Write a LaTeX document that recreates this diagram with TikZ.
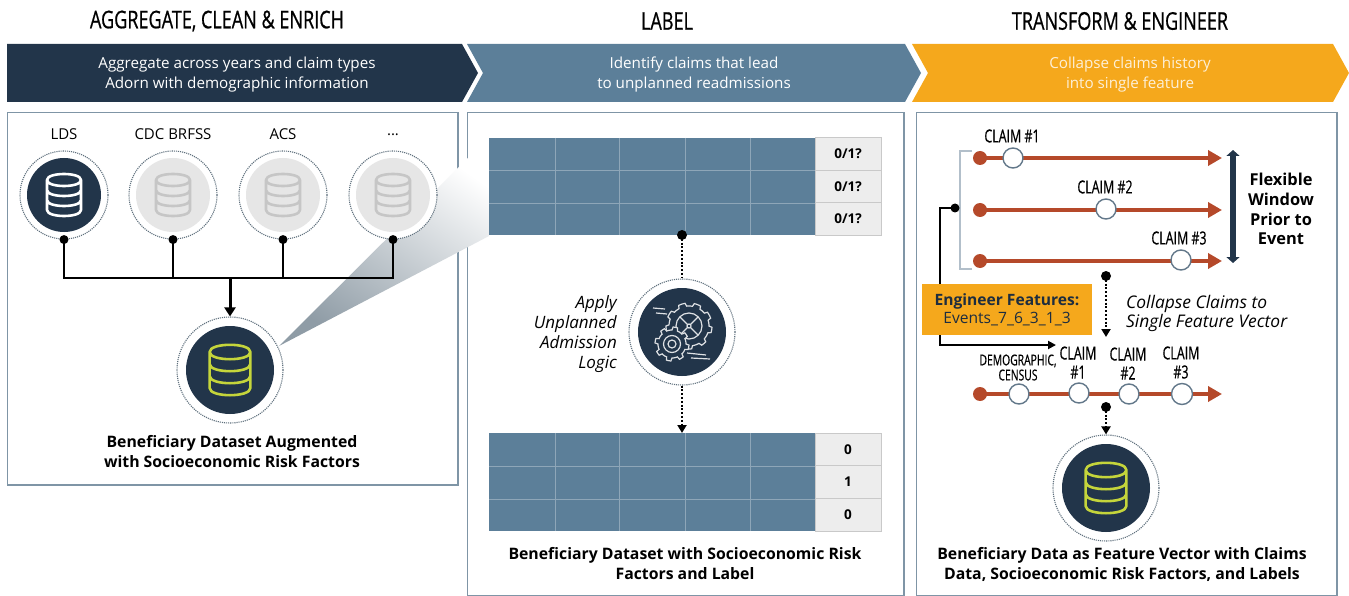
\documentclass[tikz,border=0pt]{standalone}
\usepackage{fontspec}
\setmainfont{Open Sans}
\newfontfamily\cond[FakeStretch=.74,FakeBold=.7]{Open Sans}
\newfontfamily\condb[FakeStretch=.69,FakeBold=.5]{Open Sans}
\usetikzlibrary{arrows.meta}
\definecolor{navy}{HTML}{22354A}
\definecolor{slate}{HTML}{5C7F99}
\definecolor{amber}{HTML}{F5A81C}
\definecolor{rust}{HTML}{B5492A}
\definecolor{ghost}{HTML}{E6E6E6}
\definecolor{ghostline}{HTML}{C6C6C6}
\definecolor{lime}{HTML}{C5D53B}
\definecolor{edge}{HTML}{7F95A6}
\definecolor{cellline}{HTML}{C9C9C9}
\definecolor{gridline}{HTML}{8EA6B8}
\definecolor{cream}{HTML}{FDF0D8}
\definecolor{conegrey}{HTML}{8F9CA6}
\tikzset{
  head/.style={inner sep=0,font=\cond\fontsize{24.4}{26}\selectfont,text=black},
  bandtext/.style={inner sep=0,align=center,text=white,font=\fontsize{15.2}{20}\selectfont},
  caption/.style={inner sep=0,align=center,font=\bfseries\fontsize{15.8}{20}\selectfont,text=black},
  srclabel/.style={inner sep=0,font=\fontsize{15}{16}\selectfont,text=black},
  panel/.style={draw=edge,line width=1.4,fill=white},
  ringouter/.style={circle,draw=edge!75!black,line width=1.1,densely dotted,fill=white,minimum size=#1,inner sep=0},
  ringinner/.style={circle,fill=navy,minimum size=#1,inner sep=0},
  ringghost/.style={circle,fill=ghost,minimum size=#1,inner sep=0},
  blackdot/.style={circle,fill=black,minimum size=9,inner sep=0},
  conn/.style={draw=black,line width=2.1},
  dotline/.style={draw=black,line width=2.1,dash pattern=on 2pt off 1.8pt},
  dots/.style={dotline,-{Triangle[length=8,width=9]}},
  line/.style={draw=rust,line width=4.4,-{Triangle[length=14,width=15]}},
  startdot/.style={circle,fill=rust,minimum size=14,inner sep=0},
  claimdot/.style={circle,draw=edge!70!navy,line width=1.4,fill=white,minimum size=20,inner sep=0},
  claimlabel/.style={inner sep=0,align=center,font=\condb\fontsize{18}{19}\selectfont,text=black},
  cell/.style={draw=cellline,line width=.9,fill=ghost!70!white,minimum width=66,minimum height=#1,inner sep=0,font=\bfseries\fontsize{13.5}{16}\selectfont,text=black},
  pics/dbicon/.style={code={
    \draw[line width=2.6,draw=#1,line join=round,line cap=round]
      (-17,-15) .. controls (-17,-23) and (17,-23) .. (17,-15) .. controls (17,-7) and (-17,-7) .. (-17,-15)
      -- (-17,15) .. controls (-17,23) and (17,23) .. (17,15) -- (17,-15)
      (-17,-5) .. controls (-17,3) and (17,3) .. (17,-5)
      (-17,5) .. controls (-17,13) and (17,13) .. (17,5);
  }},
  pics/gearicon/.style={code={
    \begin{scope}[draw=white!85!navy,line width=1.2]
      \draw[fill=navy] plot[domain=0:360,samples=109,variable=\t] (\t:{20+3*(sin(9*\t)>0)}) -- cycle;
      \draw (0,0) circle[radius=13];
      \draw (0,0) circle[radius=2];
      \foreach \a in {45,135,225,315}{\draw (\a:2) -- (\a:13);}
      \draw[fill=navy] plot[domain=0:360,samples=97,variable=\t] ({-17+(14+3*(sin(8*\t)>0))*cos(\t)},{18+(14+3*(sin(8*\t)>0))*sin(\t)}) -- cycle;
      \draw (-17,18) circle[radius=8.5];
      \draw (-17,18) circle[radius=4];
      \draw (-36,-18) -- (-24,-17) (-33,-13) -- (-22,-12);
      \draw (-2,27) -- (17,29) (2,32) -- (21,33);
    \end{scope}
  }}
}
\begin{document}
\begin{tikzpicture}[x=1pt,y=-1pt]
\useasboundingbox (0,0) rectangle (1349,596);

% headings
\node[head] (h1) at (217,21) {AGGREGATE, CLEAN \& ENRICH};
\node[head] (h2) at (667,21) {LABEL};
\node[head] (h3) at (1120,21) {TRANSFORM \& ENGINEER};

% chevrons
\fill[navy] (7,44) -- (462,44) -- (478,73) -- (462,102) -- (7,102) -- cycle;
\fill[slate] (467,44) -- (905,44) -- (921,73) -- (905,102) -- (467,102) -- (483,73) -- cycle;
\fill[amber] (912,44) -- (1333,44) -- (1349,73) -- (1333,102) -- (912,102) -- (928,73) -- cycle;
\node[bandtext] (b1) at (237,74.5) {Aggregate across years and claim types\\Adorn with demographic information};
\node[bandtext] (b2) at (694,74.5) {Identify claims that lead\\to unplanned readmissions};
\node[bandtext,text=cream] (b3) at (1130,74.5) {Collapse claims history\\into single feature};

% panels
\draw[panel] (7.5,112.5) rectangle (458,485);
\draw[panel] (467.5,112.5) rectangle (904,595.5);
\draw[panel] (916.5,112.5) rectangle (1337,595.5);

% cone
\shade[top color=white,bottom color=conegrey,shading angle=-35] (279,346) -- (489,137) -- (489,236) -- cycle;

% left panel
\node[srclabel] (la) at (64,134.5) {LDS};
\node[srclabel] (lb) at (173,134.5) {CDC BRFSS};
\node[srclabel] (lc) at (283,134.5) {ACS};
\node[srclabel] (ld) at (393,134.5) {...};
\node[ringouter=88] (a) at (64,195) {};
\node[ringouter=88] (b) at (173,195) {};
\node[ringouter=88] (c) at (283,195) {};
\node[ringouter=88] (d) at (393,195) {};
\node[ringinner=74] (ai) at (a.center) {};
\node[ringghost=74] (bi) at (b.center) {};
\node[ringghost=74] (ci) at (c.center) {};
\node[ringghost=74] (di) at (d.center) {};
\pic at (a.center) {dbicon=white};
\pic at (b.center) {dbicon=ghostline};
\pic at (c.center) {dbicon=ghostline};
\pic at (d.center) {dbicon=ghostline};
\node[ringouter=106] (hub) at (230,370) {};
\node[ringinner=88] (hubi) at (hub.center) {};
\pic[scale=1.2] at (hub.center) {dbicon=lime};
\coordinate (bus) at (230,278);
\node[blackdot] (da) at (a.south) {};
\node[blackdot] (db) at (b.south) {};
\node[blackdot] (dc) at (c.south) {};
\node[blackdot] (dd) at (d.south) {};
\draw[conn] (da.center) |- (bus);
\draw[conn] (db.center) |- (bus);
\draw[conn] (dc.center) |- (bus);
\draw[conn] (dd.center) |- (bus);
\draw[conn,line width=3,-{Triangle[length=9,width=11]}] (bus) -- (hub.north);
\node[caption] (cap1) at (232,452) {Beneficiary Dataset Augmented\\with Socioeconomic Risk Factors};

% middle panel: tables
\fill[slate] (489,138) rectangle (815,235);
\fill[slate] (489,433) rectangle (815,531);
\draw[gridline,line width=.9]
  (489,170) -- (815,170) (489,203) -- (815,203)
  (555,138) -- (555,235) (619,138) -- (619,235) (685,138) -- (685,235) (750,138) -- (750,235)
  (489,466) -- (815,466) (489,499) -- (815,499)
  (555,433) -- (555,531) (619,433) -- (619,531) (685,433) -- (685,531) (750,433) -- (750,531);
\node[cell=32.3] (t1) at (848,154) {0/1?};
\node[cell=32.3] (t2) at (848,186.5) {0/1?};
\node[cell=32.3] (t3) at (848,219) {0/1?};
\node[cell=32.6] (u1) at (848,449.5) {0};
\node[cell=32.6] (u2) at (848,482) {1};
\node[cell=32.6] (u3) at (848,515) {0};

\node[ringouter=106] (gear) at (682,332) {};
\node[ringinner=88] (geari) at (gear.center) {};
\pic at (689,326) {gearicon};
\node[blackdot,minimum size=10] (dt) at (682,235) {};
\coordinate (tabtop) at (682,433);
\draw[dotline] (dt.center) -- (gear.north);
\draw[dots] (gear.south) -- (tabtop);
\node[inner sep=0,align=right,anchor=east,font=\itshape\fontsize{17}{20}\selectfont] (apply) at (617,334) {Apply\\Unplanned\\Admission\\Logic};
\node[caption] (cap2) at (685,564) {Beneficiary Dataset with Socioeconomic Risk\\Factors and Label};

% right panel: bracket
\draw[draw=edge!60!white,line width=1.1] (972,151) -- (960,151) -- (960,269) -- (972,269);

% timelines
\node[startdot] (s1) at (980,158) {};
\node[startdot] (s2) at (980,210) {};
\node[startdot] (s3) at (980,261) {};
\node[startdot] (s4) at (980,394) {};
\coordinate (e1) at (1222,158);
\coordinate (e2) at (1222,210);
\coordinate (e3) at (1222,261);
\coordinate (e4) at (1222,394);
\draw[line] (s1.center) -- (e1);
\draw[line] (s2.center) -- (e2);
\draw[line] (s3.center) -- (e3);
\draw[line] (s4.center) -- (e4);
\node[claimdot] (c1) at (1013,158) {};
\node[claimdot] (c2) at (1106,209) {};
\node[claimdot] (c3) at (1181,260) {};
\node[claimlabel] (cl1) at (1012,136) {CLAIM \#1};
\node[claimlabel] (cl2) at (1105,187) {CLAIM \#2};
\node[claimlabel] (cl3) at (1179,238) {CLAIM \#3};
\node[claimdot] (v0) at (1019,394) {};
\node[claimdot] (v1) at (1079,393) {};
\node[claimdot] (v2) at (1129,394) {};
\node[claimdot,minimum size=21] (v3) at (1182,394) {};
\node[claimlabel,font=\condb\fontsize{15}{15}\selectfont] (vl0) at (1018,367.5) {DEMOGRAPHIC,\\CENSUS};
\node[claimlabel] (vl1) at (1078,362.5) {CLAIM\\\#1};
\node[claimlabel] (vl2) at (1128,363.5) {CLAIM\\\#2};
\node[claimlabel] (vl3) at (1181,362.5) {CLAIM\\\#3};

% window arrow
\coordinate (wt) at (1233,150);
\coordinate (wb) at (1233,263);
\draw[navy,line width=5.5,{Triangle[length=6,width=13]}-{Triangle[length=6,width=13]}] (wt) -- (wb);
\node[inner sep=0,align=center,font=\bfseries\fontsize{16.4}{19.7}\selectfont] (win) at (1281,209) {Flexible\\Window\\Prior to\\Event};

% engineer connector
\node[blackdot] (de) at (955,208) {};
\coordinate (ev) at (1056,345);
\draw[draw=black,line width=1.9,-{Triangle[length=8,width=8]}] (de.center) -- (940,208) |- (ev);
\node[fill=amber,minimum width=170,minimum height=51,inner sep=0] (eng) at (1007,309.5) {};
\node[inner sep=0,align=center,text=navy!85!black,font=\fontsize{15.6}{18}\selectfont] (engt) at (eng.center) {\textbf{Engineer Features:}\\Events\_7\_6\_3\_1\_3};

% collapse
\node[blackdot,minimum size=10] (dc1) at (1106,276) {};
\coordinate (vt) at (1106,337);
\draw[dots] (dc1.center) -- (vt);
\node[inner sep=0,align=left,anchor=west,font=\itshape\fontsize{17.4}{19}\selectfont] (coll) at (1126,313) {Collapse Claims to\\Single Feature Vector};

% output
\node[ringouter=106] (out) at (1106,488) {};
\node[ringinner=88] (outi) at (out.center) {};
\pic[scale=1.2] at (out.center) {dbicon=lime};
\node[blackdot,minimum size=10] (dc2) at (1106,407) {};
\draw[dots] (dc2.center) -- (out.north);
\node[caption] (cap3) at (1122,564) {Beneficiary Data as Feature Vector with Claims\\Data, Socioeconomic Risk Factors, and Labels};
\end{tikzpicture}
\end{document}
